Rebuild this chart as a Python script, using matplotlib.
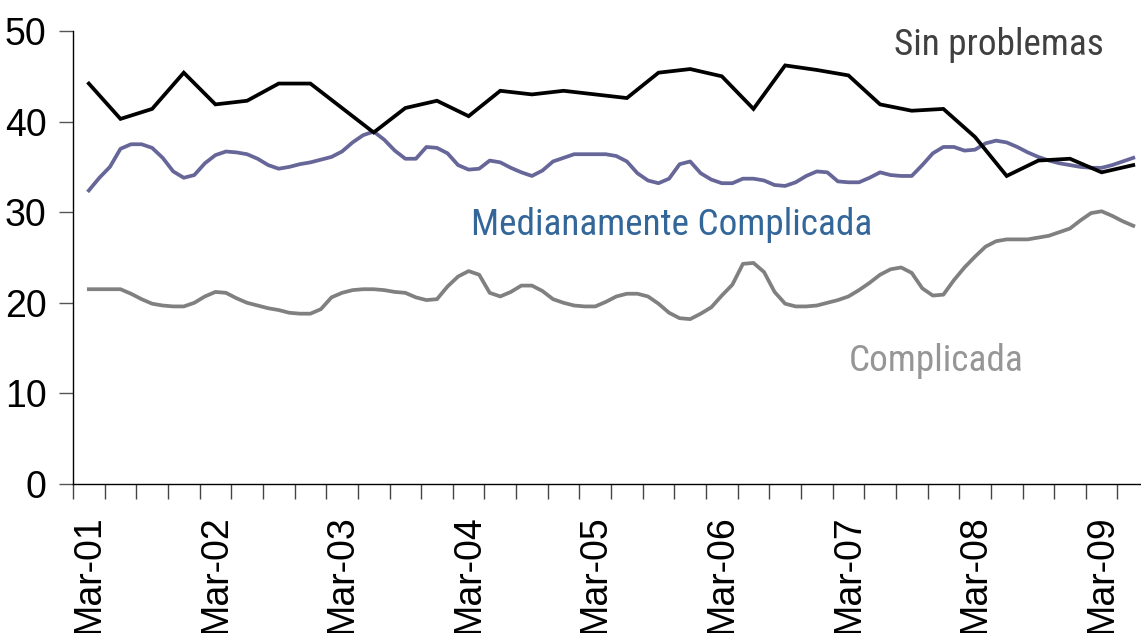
import matplotlib
matplotlib.use("Agg")
import matplotlib.pyplot as plt
from matplotlib import font_manager as fm
import numpy as np

# ---- data (months since Mar-01) ----
year_labels = ["Mar-01", "Mar-02", "Mar-03", "Mar-04", "Mar-05",
               "Mar-06", "Mar-07", "Mar-08", "Mar-09"]

# quarterly series (Mar-01 .. Jun-09)
sin_problemas = [44.2, 40.3, 41.4, 45.4, 41.9, 42.3, 44.2, 44.2, 41.5, 38.8,
                 41.5, 42.3, 40.6, 43.4, 43.0, 43.4, 43.0, 42.6, 45.4, 45.8,
                 45.0, 41.4, 46.2, 45.7, 45.1, 41.9, 41.2, 41.4, 38.3, 34.0,
                 35.7, 35.9, 34.4, 35.2]

# monthly series (Mar-01 .. Jun-09)
medianamente = [32.4, 33.8, 35.0, 37.0, 37.5, 37.5, 37.1, 36.0, 34.5, 33.8,
                34.1, 35.4, 36.3, 36.7, 36.6, 36.4, 35.9, 35.2, 34.8, 35.0,
                35.3, 35.5, 35.8, 36.1, 36.7, 37.7, 38.5, 38.9, 38.0, 36.8,
                35.9, 35.9, 37.2, 37.1, 36.5, 35.2, 34.7, 34.8, 35.7, 35.5,
                34.9, 34.4, 34.0, 34.6, 35.6, 36.0, 36.4, 36.4, 36.4, 36.4,
                36.2, 35.6, 34.3, 33.5, 33.2, 33.7, 35.3, 35.6, 34.3, 33.6,
                33.2, 33.2, 33.7, 33.7, 33.5, 33.0, 32.9, 33.3, 34.0, 34.5,
                34.4, 33.4, 33.3, 33.3, 33.8, 34.4, 34.1, 34.0, 34.0, 35.2,
                36.5, 37.2, 37.2, 36.8, 36.9, 37.6, 37.9, 37.7, 37.2, 36.6,
                36.1, 35.7, 35.4, 35.2, 35.0, 34.9, 34.9, 35.2, 35.6, 36.0]

complicada = [21.5, 21.5, 21.5, 21.5, 21.0, 20.4, 19.9, 19.7, 19.6, 19.6,
              20.0, 20.7, 21.2, 21.1, 20.5, 20.0, 19.7, 19.4, 19.2, 18.9,
              18.8, 18.8, 19.3, 20.6, 21.1, 21.4, 21.5, 21.5, 21.4, 21.2,
              21.1, 20.6, 20.3, 20.4, 21.8, 22.9, 23.5, 23.1, 21.1, 20.7,
              21.2, 21.9, 21.9, 21.3, 20.4, 20.0, 19.7, 19.6, 19.6, 20.1,
              20.7, 21.0, 21.0, 20.7, 19.9, 18.9, 18.3, 18.2, 18.8, 19.5,
              20.8, 22.0, 24.3, 24.4, 23.4, 21.2, 19.9, 19.6, 19.6, 19.7,
              20.0, 20.3, 20.7, 21.4, 22.2, 23.1, 23.7, 23.9, 23.3, 21.6,
              20.8, 20.9, 22.5, 23.9, 25.1, 26.2, 26.8, 27.0, 27.0, 27.0,
              27.2, 27.4, 27.8, 28.2, 29.1, 29.9, 30.1, 29.6, 29.0, 28.5]

x_q = np.arange(len(sin_problemas)) * 3
x_m = np.arange(len(medianamente))


def find_font(names, fname_hint=None):
    for nm in names:
        for f in fm.fontManager.ttflist:
            if f.name == nm and f.style == "normal" and f.weight in (400, "normal", "regular") \
                    and f.stretch in ("normal", "condensed", "semi-condensed", 500, 400, 300):
                return f.fname
    if fname_hint:
        for f in fm.fontManager.ttflist:
            if fname_hint in f.fname and f.style == "normal" and "Bold" not in f.fname:
                return f.fname
    return None


narrow_file = find_font(["Liberation Sans Narrow", "Arial Narrow", "Roboto Condensed"],
                        "DejaVuSansCondensed")
sans_file = find_font(["Liberation Sans", "Arial"])

W, H = 1141, 633
fig = plt.figure(figsize=(W / 100, H / 100), dpi=100)
ax = fig.add_axes([73 / W, 1 - 484 / H, (W - 73) / W, (484 - 31) / H])

lw = 2.7
ax.plot(x_m, complicada, color="#808080", lw=lw, solid_joinstyle="round", zorder=3)
ax.plot(x_m, medianamente, color="#666699", lw=lw, solid_joinstyle="round", zorder=4)
ax.plot(x_q, sin_problemas, color="#000000", lw=lw, solid_joinstyle="miter", zorder=5)

ax.set_xlim(-1.5, -1.5 + (W - 73) / 10.55)
ax.set_ylim(0, 50)

for s in ["top", "right"]:
    ax.spines[s].set_visible(False)
for s in ["left", "bottom"]:
    ax.spines[s].set_color("#000000")
    ax.spines[s].set_linewidth(1.0)

ax.set_yticks([0, 10, 20, 30, 40, 50])
ax.tick_params(axis="y", direction="out", length=10, width=1, color="#555555",
               pad=9, labelcolor="#000000")

ax.set_xticks(np.arange(len(year_labels)) * 12)
ax.set_xticklabels(year_labels, rotation=90)
ax.set_xticks(np.arange(-1.5, 99, 3), minor=True)
ax.tick_params(axis="x", which="major", length=0, pad=22)
ax.tick_params(axis="x", which="minor", direction="out", length=11, width=1,
               color="#444444")

if sans_file is not None:
    sans_fp = fm.FontProperties(fname=sans_file, size=27)
else:
    sans_fp = fm.FontProperties(family="DejaVu Sans", size=25)
for lab in ax.get_xticklabels() + ax.get_yticklabels():
    lab.set_fontproperties(sans_fp)

if narrow_file is not None:
    tp = dict(fontproperties=fm.FontProperties(fname=narrow_file, size=26.8))
else:
    tp = dict(family=["Liberation Sans", "DejaVu Sans"], fontsize=25)

ax.text(86.3, 47.3, "Sin problemas", color="#404040", ha="center", va="baseline", **tp)
ax.text(55.2, 27.5, "Medianamente Complicada", color="#336699", ha="center",
        va="baseline", **tp)
ax.text(80.3, 12.5, "Complicada", color="#969696", ha="center", va="baseline", **tp)

fig.savefig("out.png", dpi=100)
